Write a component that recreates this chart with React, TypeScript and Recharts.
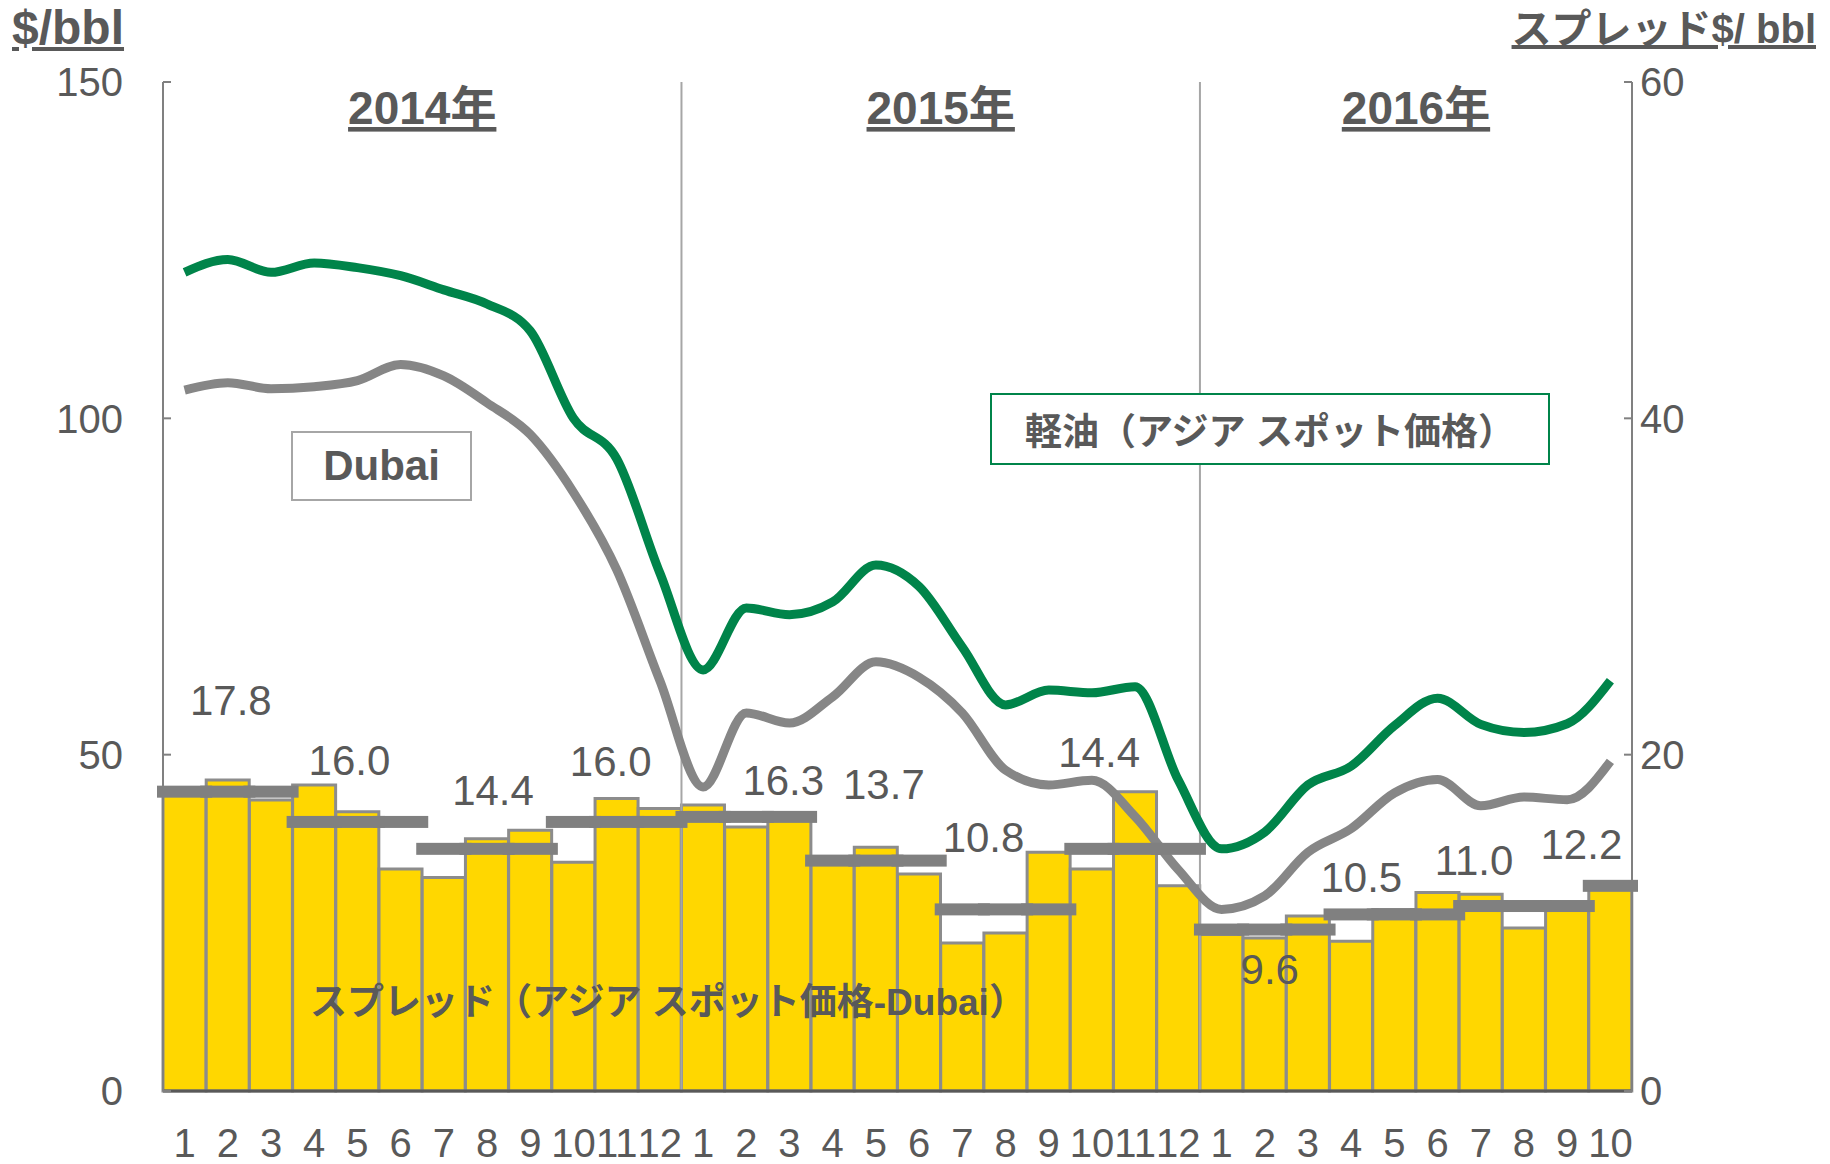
import React from "react";
import {
  ComposedChart,
  Bar,
  Line,
  XAxis,
  YAxis,
  ReferenceLine,
  ReferenceArea,
} from "recharts";

// months per year shown on the axis
const YEARS = ["2014年", "2015年", "2016年"];
const YEAR_KEYS = ["2014", "2015", "2016"];
const YEAR_MONTHS = [12, 12, 10];

// 軽油（アジア スポット価格） $/bbl
const DIESEL = [
  121.7, 123.6, 121.7, 123.1, 122.4, 121.2, 119.1, 117.0, 113.0, 100.0, 94.0, 77.0,
  62.6, 71.8, 70.8, 72.7, 78.2, 75.0, 66.0, 57.4, 59.6, 59.2, 60.1, 46.2,
  36.0, 38.5, 45.5, 48.3, 54.3, 58.4, 54.5, 53.3, 54.6, 61.0,
];

// Dubai $/bbl
const DUBAI = [
  104.2, 105.3, 104.4, 104.7, 105.6, 108.0, 106.3, 102.3, 97.6, 89.0, 77.5, 61.0,
  45.2, 56.2, 54.7, 58.6, 63.8, 61.5, 56.2, 47.7, 45.5, 46.2, 40.8, 32.9,
  27.0, 29.0, 35.5, 39.0, 44.3, 46.3, 42.4, 43.7, 43.3, 49.0,
];

// monthly spread $/bbl (right axis)
const SPREAD = [
  17.6, 18.5, 17.3, 18.2, 16.6, 13.2, 12.7, 15.0, 15.5, 13.6, 17.4, 16.8,
  17.0, 15.7, 16.2, 13.7, 14.5, 12.9, 8.8, 9.4, 14.2, 13.2, 17.8, 12.2,
  9.3, 9.1, 10.4, 8.9, 10.8, 11.8, 11.7, 9.7, 10.8, 12.2,
];

// quarterly average spread
const QUARTER_AVG = [17.8, 16.0, 14.4, 16.0, 16.3, 13.7, 10.8, 14.4, 9.6, 10.5, 11.0, 12.2];

// label nudges for the quarter averages (px, relative to segment centre)
const LABEL_NUDGE: [number, number][] = [
  [3, -91], [-8, -61], [6, -58], [-6, -60], [37, -36], [8, -76],
  [-22, -72], [-36, -96], [5, 40], [-33, -37], [-50, -46], [-29, -41],
];

const W = 1830;
const H = 1164;
const MARGIN = { top: 82, right: 138, bottom: 3, left: 103 };
const AXIS_W = 60;
const PLOT_W = W - MARGIN.left - MARGIN.right - 2 * AXIS_W;

const TEXT = "#595959";
const FONT = "'Liberation Sans', Arial, 'Noto Sans CJK JP', sans-serif";

const rows: Record<string, string | number>[] = [];
YEAR_KEYS.forEach((y, yi) => {
  for (let m = 1; m <= YEAR_MONTHS[yi]; m++) {
    const i = rows.length;
    rows.push({
      key: `${y}-${m}`,
      month: String(m),
      diesel: DIESEL[i],
      dubai: DUBAI[i],
      spread: SPREAD[i],
      avg: QUARTER_AVG[Math.floor(i / 3)],
    });
  }
});
const N = rows.length;
const BAND = PLOT_W / N;

function AvgMark(props: any) {
  const { cx, cy, index } = props;
  if (cx == null || cy == null) return <g key={`a${index}`} />;
  const q = Math.floor(index / 3);
  const qStart = q * 3;
  const qLen = Math.min(3, N - qStart);
  const isLabel = index === qStart + Math.floor((qLen - 1) / 2);
  const [dx, dy] = LABEL_NUDGE[q];
  return (
    <g key={`a${index}`}>
      <rect x={cx - BAND / 2 - 6} y={cy - 6} width={BAND + 12} height={12} fill="#808080" />
      {isLabel && (
        <text
          x={cx + dx}
          y={cy + dy}
          textAnchor="middle"
          dominantBaseline="central"
          fontSize={42}
          fill={TEXT}
          fontFamily={FONT}
        >
          {QUARTER_AVG[q].toFixed(1)}
        </text>
      )}
    </g>
  );
}

function yearLabel(text: string) {
  return (p: any) => {
    const vb = p.viewBox || {};
    return (
      <text
        x={vb.x + vb.width / 2}
        y={vb.y + 42}
        textAnchor="middle"
        fontSize={46}
        fontWeight="bold"
        fill={TEXT}
        fontFamily={FONT}
        textDecoration="underline"
      >
        {text}
      </text>
    );
  };
}

export default function App() {
  const firstKeys = YEAR_KEYS.map((y) => `${y}-1`);
  const lastKeys = YEAR_KEYS.map((y, i) => `${y}-${YEAR_MONTHS[i]}`);
  return (
    <div
      style={{
        position: "absolute",
        left: 0,
        top: 0,
        width: W,
        height: H,
        background: "#fff",
        fontFamily: FONT,
        color: TEXT,
      }}
    >
      <ComposedChart
        width={W}
        height={H}
        data={rows}
        margin={MARGIN}
        barCategoryGap={0}
        barGap={0}
      >
        <XAxis
          dataKey="key"
          tickFormatter={(v: string) => v.split("-")[1]}
          interval={0}
          tickLine={false}
          tickSize={0}
          tickMargin={38}
          height={70}
          axisLine={{ stroke: "#595959", strokeWidth: 3 }}
          tick={{ fontSize: 40, fill: TEXT, fontFamily: FONT }}
        />
        <YAxis
          yAxisId="left"
          orientation="left"
          domain={[0, 150]}
          ticks={[0, 50, 100, 150]}
          width={AXIS_W}
          tickSize={-8}
          tickMargin={48}
          axisLine={{ stroke: "#808080", strokeWidth: 2 }}
          tickLine={{ stroke: "#808080", strokeWidth: 2 }}
          tick={{ fontSize: 40, fill: TEXT, fontFamily: FONT }}
        />
        <YAxis
          yAxisId="right"
          orientation="right"
          domain={[0, 60]}
          ticks={[0, 20, 40, 60]}
          width={AXIS_W}
          tickSize={-8}
          tickMargin={16}
          axisLine={{ stroke: "#808080", strokeWidth: 2 }}
          tickLine={{ stroke: "#808080", strokeWidth: 2 }}
          tick={{ fontSize: 40, fill: TEXT, fontFamily: FONT }}
        />
        {firstKeys.map((k, i) => (
          <ReferenceArea
            key={`ra${i}`}
            yAxisId="left"
            x1={k}
            x2={lastKeys[i]}
            y1={0}
            y2={150}
            fill="none"
            stroke="none"
            label={yearLabel(YEARS[i])}
          />
        ))}
        {firstKeys.slice(1).map((k) => (
          <ReferenceLine
            key={`rl${k}`}
            yAxisId="left"
            x={k}
            position="start"
            stroke="#a6a6a6"
            strokeWidth={2}
          />
        ))}
        <Bar
          yAxisId="right"
          dataKey="spread"
          fill="#FFD700"
          stroke="#8c8c8c"
          strokeWidth={3}
          isAnimationActive={false}
        />
        <Line
          yAxisId="right"
          dataKey="avg"
          stroke="none"
          dot={AvgMark}
          activeDot={false}
          isAnimationActive={false}
        />
        <Line
          yAxisId="left"
          dataKey="dubai"
          type="monotone"
          stroke="#868686"
          strokeWidth={9}
          dot={false}
          activeDot={false}
          isAnimationActive={false}
        />
        <Line
          yAxisId="left"
          dataKey="diesel"
          type="monotone"
          stroke="#00844A"
          strokeWidth={9}
          dot={false}
          activeDot={false}
          isAnimationActive={false}
        />
      </ComposedChart>

      <div
        style={{
          position: "absolute",
          left: 12,
          top: 0,
          fontSize: 48,
          fontWeight: "bold",
          textDecoration: "underline",
          lineHeight: "56px",
        }}
      >
        $/bbl
      </div>
      <div
        style={{
          position: "absolute",
          right: 14,
          top: 2,
          fontSize: 40,
          fontWeight: "bold",
          textDecoration: "underline",
          lineHeight: "54px",
          whiteSpace: "nowrap",
        }}
      >
        スプレッド$/ bbl
      </div>
      <div
        style={{
          position: "absolute",
          left: 291,
          top: 431,
          width: 181,
          height: 70,
          boxSizing: "border-box",
          border: "2px solid #a6a6a6",
          background: "#fff",
          display: "flex",
          alignItems: "center",
          justifyContent: "center",
          fontSize: 42,
          fontWeight: "bold",
        }}
      >
        Dubai
      </div>
      <div
        style={{
          position: "absolute",
          left: 990,
          top: 393,
          width: 560,
          height: 72,
          boxSizing: "border-box",
          border: "2px solid #00844A",
          background: "#fff",
          display: "flex",
          alignItems: "center",
          justifyContent: "center",
          fontSize: 37,
          fontWeight: "bold",
          whiteSpace: "nowrap",
        }}
      >
        軽油（アジア スポット価格）
      </div>
      <div
        style={{
          position: "absolute",
          left: 310,
          top: 978,
          fontSize: 37,
          fontWeight: "bold",
          lineHeight: "50px",
          whiteSpace: "nowrap",
        }}
      >
        スプレッド（アジア スポット価格-Dubai）
      </div>
    </div>
  );
}
